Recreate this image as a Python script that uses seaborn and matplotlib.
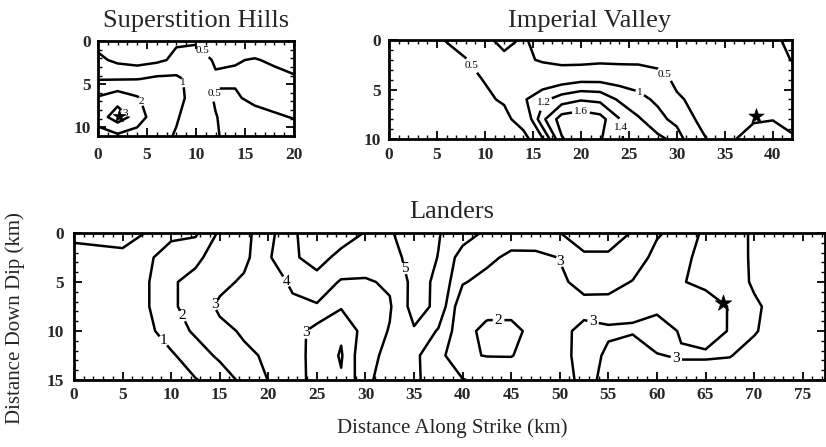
import numpy as np
import matplotlib
matplotlib.use("Agg")
import matplotlib.pyplot as plt
from matplotlib.ticker import MultipleLocator
import seaborn as sns

sns.set_theme(style="white")
plt.rcParams["font.family"] = ["Liberation Serif", "DejaVu Serif"]

# ---------------- Superstition Hills: slip (m) on the fault plane ----------------
sh_strike = np.arange(0, 21, 2.0)                   # km along strike
sh_dip = np.array([0.0, 2.2, 4.4, 6.6, 8.8, 11.0])  # km down dip
sh_slip = np.array([
    [0.35, 0.30, 0.25, 0.30, 0.45, 0.45, 0.30, 0.30, 0.30, 0.30, 0.25],
    [0.60, 0.40, 0.30, 0.40, 0.60, 0.70, 0.45, 0.48, 0.52, 0.45, 0.35],
    [0.95, 0.95, 0.98, 1.10, 1.10, 0.80, 0.55, 0.55, 0.75, 0.60, 0.55],
    [2.10, 2.60, 2.10, 1.40, 1.15, 0.80, 0.45, 0.45, 0.60, 0.65, 0.60],
    [2.50, 3.50, 2.60, 1.30, 1.05, 0.70, 0.52, 0.30, 0.35, 0.45, 0.52],
    [1.50, 1.80, 1.50, 1.20, 0.95, 0.60, 0.55, 0.30, 0.30, 0.30, 0.30],
])
sh_levels = [0.5, 1, 2, 3]
sh_label_pts = [(10.6, 1.2), (11.8, 6.0), (8.7, 4.8), (4.6, 6.9), (2.9, 8.2)]
sh_hypo_x, sh_hypo_y = [2.1], [8.7]

# ---------------- Imperial Valley ----------------
iv_strike = np.arange(0, 43, 2.0)
iv_dip = np.arange(0, 11, 2.0)
iv_slip = np.array([
    [0.15, 0.20, 0.30, 0.52, 0.60, 0.62, 0.35, 0.56, 0.30, 0.25, 0.20,
     0.20, 0.20, 0.20, 0.20, 0.20, 0.22, 0.25, 0.28, 0.30, 0.42, 0.60],
    [0.15, 0.20, 0.25, 0.35, 0.49, 0.60, 0.62, 0.58, 0.45, 0.35, 0.35,
     0.40, 0.38, 0.38, 0.38, 0.35, 0.30, 0.25, 0.25, 0.30, 0.40, 0.51],
    [0.10, 0.15, 0.20, 0.28, 0.38, 0.52, 0.70, 0.80, 0.85, 0.90, 0.95,
     0.95, 0.92, 0.88, 0.65, 0.42, 0.30, 0.25, 0.25, 0.25, 0.30, 0.35],
    [0.10, 0.12, 0.15, 0.20, 0.28, 0.42, 0.56, 0.97, 1.15, 1.30, 1.38,
     1.35, 1.17, 1.08, 0.95, 0.55, 0.42, 0.30, 0.30, 0.30, 0.30, 0.30],
    [0.10, 0.10, 0.12, 0.15, 0.20, 0.28, 0.35, 0.75, 1.35, 1.70, 1.75,
     1.68, 1.41, 1.22, 1.09, 0.91, 0.48, 0.40, 0.40, 0.45, 0.49, 0.38],
    [0.10, 0.10, 0.10, 0.12, 0.15, 0.20, 0.25, 0.30, 0.98, 1.58, 1.75,
     1.62, 1.42, 1.32, 1.24, 1.15, 0.72, 0.32, 0.48, 0.70, 0.65, 0.55],
])
iv_levels = [0.5, 1, 1.2, 1.4, 1.6]
iv_label_pts = [(8.6, 2.6), (28.9, 3.3), (26.3, 5.1), (16.3, 6.5), (24.2, 8.8), (20.0, 7.2)]
iv_hypo_x, iv_hypo_y = [38.3], [7.7]

# ---------------- Landers ----------------
la_strike = np.arange(0, 78, 2.5)
la_dip = np.arange(0, 15.1, 2.5)
la_slip = np.array([
    [1.50, 1.50, 1.50, 0.95, 0.80, 0.84, 2.16, 2.66, 3.73, 4.70, 6.20, 6.00, 4.90, 4.71, 6.50, 5.05,
     4.50, 3.80, 3.70, 3.80, 3.98, 4.60, 4.60, 3.92, 3.10, 2.70, 3.10, 3.30, 2.90, 2.70, 2.60, 2.50],
    [0.25, 0.52, 0.69, 0.85, 1.39, 1.80, 2.43, 2.72, 3.90, 4.70, 5.77, 4.40, 4.50, 4.60, 5.40, 4.98,
     3.54, 3.30, 2.72, 2.70, 3.03, 3.81, 3.81, 3.50, 2.72, 2.75, 3.32, 3.40, 2.87, 2.60, 2.50, 2.40],
    [0.20, 0.40, 0.60, 0.90, 1.90, 2.26, 2.70, 3.17, 3.60, 4.13, 4.30, 3.95, 3.90, 4.13, 5.30, 4.85,
     3.10, 2.60, 2.50, 2.60, 2.85, 3.27, 3.30, 2.96, 2.80, 2.95, 3.20, 3.50, 2.87, 2.60, 2.50, 2.40],
    [0.20, 0.35, 0.55, 0.90, 1.90, 2.26, 3.21, 3.50, 3.60, 3.85, 3.95, 3.10, 3.30, 3.90, 5.40, 4.78,
     2.20, 2.30, 2.25, 2.40, 2.50, 2.75, 2.70, 2.90, 2.75, 2.60, 2.60, 3.05, 3.15, 2.68, 2.50, 2.40],
    [0.20, 0.30, 0.50, 0.85, 1.29, 2.22, 2.70, 3.14, 3.40, 3.50, 2.60, 2.15, 3.43, 4.06, 4.90, 3.90,
     2.30, 1.76, 1.80, 2.22, 2.80, 3.20, 3.10, 3.05, 3.50, 2.90, 2.70, 3.04, 3.10, 2.50, 2.40, 2.30],
    [0.20, 0.30, 0.40, 0.60, 0.92, 1.32, 2.26, 2.80, 3.14, 3.30, 2.74, 1.90, 3.86, 4.11, 4.20, 3.37,
     2.10, 1.97, 1.97, 2.30, 2.70, 3.33, 2.87, 2.70, 2.95, 3.10, 3.10, 3.05, 2.60, 2.40, 2.30, 2.20],
    [0.20, 0.30, 0.40, 0.50, 0.70, 0.97, 1.22, 2.37, 3.02, 3.30, 2.76, 2.10, 3.70, 4.64, 4.30, 3.20,
     3.05, 2.70, 2.50, 2.50, 2.80, 3.13, 2.88, 2.60, 2.50, 2.50, 2.50, 2.40, 2.30, 2.20, 2.10, 2.10],
])
la_levels = [1, 2, 3, 4, 5]
la_label_pts = [(9.2, 11.0), (11.1, 8.5), (14.5, 7.3), (21.9, 4.9), (24.0, 10.2), (34.1, 3.6),
                (43.7, 8.9), (50.0, 2.9), (53.5, 8.7), (62.0, 12.8)]
la_hypo_x, la_hypo_y = [66.8], [7.1]

W, H = 826, 447
fig = plt.figure(figsize=(W / 100, H / 100), dpi=100)
fig.patch.set_facecolor("white")


def panel(left, top, right, bottom):
    return fig.add_axes([left / W, 1 - bottom / H, (right - left) / W, (bottom - top) / H])


def draw(ax, x, y, z, levels, label_pts, label_size, hx, hy, star_size,
         xlim, ylim, xticks, yticks, xpad, ypad):
    X, Y = np.meshgrid(x, y)
    cs = ax.contour(X, Y, z, levels=levels, colors="black", linewidths=1.8)
    texts = ax.clabel(cs, fmt="%g", fontsize=label_size, inline=True,
                      inline_spacing=2, manual=label_pts)
    for t in texts:
        t.set_rotation(0)
    sns.scatterplot(x=hx, y=hy, marker="*", s=star_size, color="black",
                    edgecolor="black", linewidth=0.5, ax=ax, zorder=5, legend=False)
    ax.set_xlabel("")
    ax.set_ylabel("")
    ax.set_xlim(*xlim)
    ax.set_ylim(*ylim)
    ax.set_xticks(xticks)
    ax.set_yticks(yticks)
    ax.set_xticklabels([f"{v:g}" for v in xticks], fontweight="bold", fontsize=12.5)
    ax.set_yticklabels([f"{v:g}" for v in yticks], fontweight="bold", fontsize=12.5)
    ax.xaxis.set_minor_locator(MultipleLocator(1))
    ax.yaxis.set_minor_locator(MultipleLocator(1))
    ax.tick_params(which="both", direction="in", top=True, right=True,
                   bottom=True, left=True, color="black")
    ax.tick_params(which="major", length=6, width=1.3)
    ax.tick_params(which="minor", length=3, width=1.0)
    ax.tick_params(axis="x", which="major", pad=xpad)
    ax.tick_params(axis="y", which="major", pad=ypad)
    for s in ax.spines.values():
        s.set_color("black")
        s.set_linewidth(2.0)
    ax.set_facecolor("white")
    ax.grid(False)


ax_sh = panel(98, 41, 294, 136)
draw(ax_sh, sh_strike, sh_dip, sh_slip, sh_levels, sh_label_pts, 8,
     sh_hypo_x, sh_hypo_y, 90, (0, 20), (11, 0), [0, 5, 10, 15, 20], [0, 5, 10], 8, 5)

ax_iv = panel(389, 40, 792, 139)
draw(ax_iv, iv_strike, iv_dip, iv_slip, iv_levels, iv_label_pts, 8,
     iv_hypo_x, iv_hypo_y, 130, (0, 42), (10, 0), list(range(0, 41, 5)), [0, 5, 10], 6, 6)

ax_la = panel(74, 233, 825, 380)
draw(ax_la, la_strike, la_dip, la_slip, la_levels, la_label_pts, 11,
     la_hypo_x, la_hypo_y, 150, (0, 77.3), (15, 0), list(range(0, 76, 5)), [0, 5, 10, 15], 5, 7)

fig.text(196 / W, 1 - 26.7 / H, "Superstition Hills", ha="center", va="baseline", fontsize=19)
fig.text(590 / W, 1 - 26.7 / H, "Imperial Valley", ha="center", va="baseline", fontsize=19)
fig.text(452 / W, 1 - 218.3 / H, "Landers", ha="center", va="baseline", fontsize=19)
fig.text(452 / W, 1 - 428 / H, "Distance Along Strike (km)", ha="center", va="center", fontsize=15)
fig.text(15 / W, 1 - 318 / H, "Distance Down Dip (km)", ha="center", va="center",
         rotation=90, fontsize=15)

fig.savefig("out.png", dpi=100, facecolor="white")
